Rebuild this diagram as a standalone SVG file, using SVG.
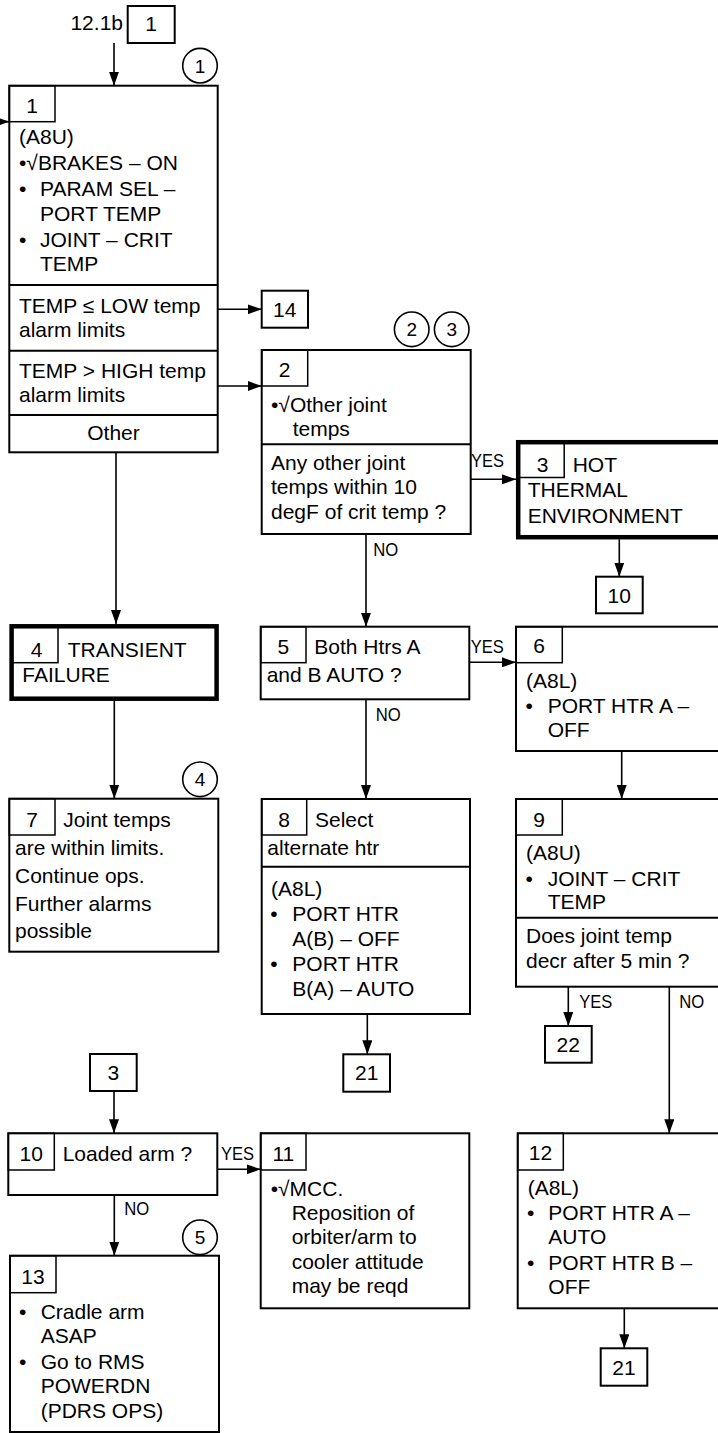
<svg xmlns="http://www.w3.org/2000/svg" width="718" height="1433" viewBox="0 0 718 1433">
<defs>
<style>
.box{fill:#fff;stroke:#000;stroke-width:2}
.thick{fill:#fff;stroke:#000;stroke-width:4.5}
.tab{fill:none;stroke:#000;stroke-width:1.5}
.div{stroke:#000;stroke-width:2}
.ln{fill:none;stroke:#000;stroke-width:1.6}
.arr{fill:none;stroke:#000;stroke-width:1.6;marker-end:url(#ah)}
.circ{fill:#fff;stroke:#000;stroke-width:1.6}
text{font-family:"Liberation Sans",Arial,Helvetica,sans-serif;fill:#000}
.t{font-size:21px}
.m{font-size:21px;text-anchor:middle}
.c{font-size:19px;text-anchor:middle}
.l{font-size:19px}
</style>
<marker id="ah" viewBox="0 0 14 10" refX="14" refY="5" markerWidth="14" markerHeight="10" markerUnits="userSpaceOnUse" orient="auto">
<path d="M0,0 L14,5 L0,10 Z" fill="#000"/>
</marker>
</defs>
<rect width="718" height="1433" fill="#fff"/>

<g id="connectors">
<line class="arr" x1="-10" y1="121.7" x2="9.3" y2="121.7"/>
<line class="arr" x1="114" y1="43" x2="114" y2="85.7"/>
<line class="arr" x1="217.7" y1="309.3" x2="261.7" y2="309.3"/>
<line class="arr" x1="217.7" y1="386" x2="261.7" y2="386"/>
<line class="arr" x1="470.7" y1="479.3" x2="516" y2="479.3"/>
<line class="arr" x1="619.3" y1="539.3" x2="619.3" y2="576.7"/>
<line class="arr" x1="366" y1="534" x2="366" y2="626.7"/>
<line class="arr" x1="116" y1="452.3" x2="116" y2="624"/>
<line class="arr" x1="114.3" y1="701" x2="114.3" y2="798.7"/>
<line class="arr" x1="469.3" y1="662.3" x2="516" y2="662.3"/>
<line class="arr" x1="366" y1="699.3" x2="366" y2="799"/>
<line class="arr" x1="621.7" y1="751" x2="621.7" y2="799"/>
<line class="arr" x1="568.3" y1="986.7" x2="568.3" y2="1026"/>
<line class="arr" x1="669.3" y1="986.7" x2="669.3" y2="1133.3"/>
<line class="arr" x1="624.3" y1="1308.3" x2="624.3" y2="1348.3"/>
<line class="arr" x1="367.3" y1="1014" x2="367.3" y2="1054.3"/>
<line class="arr" x1="114" y1="1091" x2="114" y2="1133.3"/>
<line class="arr" x1="217.3" y1="1169.3" x2="260.7" y2="1169.3"/>
<line class="arr" x1="114.3" y1="1195" x2="114.3" y2="1255.7"/>
<text class="l" x="471" y="466.7" textLength="33" lengthAdjust="spacingAndGlyphs">YES</text>
<text class="l" x="373.3" y="556" textLength="25" lengthAdjust="spacingAndGlyphs">NO</text>
<text class="l" x="470.7" y="653" textLength="33" lengthAdjust="spacingAndGlyphs">YES</text>
<text class="l" x="375.7" y="720.7" textLength="25" lengthAdjust="spacingAndGlyphs">NO</text>
<text class="l" x="579.3" y="1008.3" textLength="33" lengthAdjust="spacingAndGlyphs">YES</text>
<text class="l" x="679.3" y="1008.3" textLength="25" lengthAdjust="spacingAndGlyphs">NO</text>
<text class="l" x="221" y="1160" textLength="33" lengthAdjust="spacingAndGlyphs">YES</text>
<text class="l" x="124.3" y="1215" textLength="25" lengthAdjust="spacingAndGlyphs">NO</text>
</g>

<g id="ref-top">
<text class="t" x="123" y="30" text-anchor="end">12.1b</text>
<rect class="box" x="127.7" y="6" width="47" height="37"/>
<text class="m" x="151.2" y="31">1</text>
</g>

<g id="circle1">
<circle class="circ" cx="200" cy="65.7" r="17.3"/>
<text class="c" x="200" y="72.5">1</text>
</g>

<g id="node1">
<rect class="box" x="9.3" y="85.7" width="208.4" height="366.6"/>
<rect class="tab" x="9.3" y="85.7" width="45.7" height="36"/>
<text class="m" x="32.2" y="113">1</text>
<text class="t" x="19" y="144">(A8U)</text>
<text class="t" x="19" y="170">•√BRAKES – ON</text>
<text class="t" x="19" y="196">•</text>
<text class="t" x="40" y="196">PARAM SEL –</text>
<text class="t" x="40" y="221">PORT TEMP</text>
<text class="t" x="19" y="247">•</text>
<text class="t" x="40" y="247">JOINT – CRIT</text>
<text class="t" x="40" y="271">TEMP</text>
<line class="div" x1="9.3" y1="285" x2="217.7" y2="285"/>
<text class="t" x="19" y="313">TEMP ≤ LOW temp</text>
<text class="t" x="19" y="337">alarm limits</text>
<line class="div" x1="9.3" y1="350.7" x2="217.7" y2="350.7"/>
<text class="t" x="19" y="377.7">TEMP &gt; HIGH temp</text>
<text class="t" x="19" y="401.7">alarm limits</text>
<line class="div" x1="9.3" y1="415" x2="217.7" y2="415"/>
<text class="m" x="113.5" y="440">Other</text>
</g>

<g id="ref14">
<rect class="box" x="261.7" y="290.7" width="46.3" height="37"/>
<text class="m" x="284.8" y="317">14</text>
</g>

<g id="circles23">
<circle class="circ" cx="411.7" cy="329.3" r="17.3"/>
<text class="c" x="411.7" y="336">2</text>
<circle class="circ" cx="451.7" cy="329.3" r="17.3"/>
<text class="c" x="451.7" y="336">3</text>
</g>

<g id="node2">
<rect class="box" x="261.7" y="350" width="209" height="184"/>
<rect class="tab" x="261.7" y="350" width="46" height="36"/>
<text class="m" x="284.7" y="377">2</text>
<text class="t" x="271" y="411.7">•√Other joint</text>
<text class="t" x="292.7" y="436">temps</text>
<line class="div" x1="261.7" y1="444.3" x2="470.7" y2="444.3"/>
<text class="t" x="271" y="470">Any other joint</text>
<text class="t" x="271" y="494.3">temps within 10</text>
<text class="t" x="271" y="519">degF of crit temp ?</text>
</g>

<g id="node3">
<rect class="thick" x="518.2" y="442.2" width="212" height="95"/>
<rect class="tab" x="518.2" y="442.2" width="46" height="35.3"/>
<text class="m" x="542.7" y="472">3</text>
<text class="t" x="572.7" y="472">HOT</text>
<text class="t" x="527.7" y="497.3">THERMAL</text>
<text class="t" x="527.7" y="522.7">ENVIRONMENT</text>
</g>

<g id="ref10a">
<rect class="box" x="596" y="576.7" width="46.7" height="36.6"/>
<text class="m" x="619.3" y="603">10</text>
</g>

<g id="node4">
<rect class="thick" x="11.6" y="626.3" width="205" height="72.4"/>
<rect class="tab" x="11.6" y="626.3" width="46.4" height="36.4"/>
<text class="m" x="36.7" y="656.7">4</text>
<text class="t" x="67.7" y="656.7">TRANSIENT</text>
<text class="t" x="22.3" y="682.3">FAILURE</text>
</g>

<g id="node5">
<rect class="box" x="260.7" y="626.7" width="208.6" height="72.6"/>
<rect class="tab" x="260.7" y="626.7" width="45.3" height="36"/>
<text class="m" x="283.4" y="654">5</text>
<text class="t" x="314.3" y="654">Both Htrs A</text>
<text class="t" x="266.7" y="681.7">and B AUTO ?</text>
</g>

<g id="node6">
<rect class="box" x="516" y="626.7" width="212" height="124.3"/>
<rect class="tab" x="516" y="626.7" width="46.3" height="36"/>
<text class="m" x="539.2" y="653.3">6</text>
<text class="t" x="526" y="688.3">(A8L)</text>
<text class="t" x="525.5" y="713.3">•</text>
<text class="t" x="547.7" y="713.3">PORT HTR A –</text>
<text class="t" x="547.7" y="737.3">OFF</text>
</g>

<g id="circle4">
<circle class="circ" cx="200" cy="779.3" r="17.3"/>
<text class="c" x="200" y="786">4</text>
</g>

<g id="node7">
<rect class="box" x="9.3" y="798.7" width="209" height="153"/>
<rect class="tab" x="9.3" y="798.7" width="45.7" height="36.3"/>
<text class="m" x="32.2" y="827.3">7</text>
<text class="t" x="63.3" y="827.3">Joint temps</text>
<text class="t" x="15" y="855">are within limits.</text>
<text class="t" x="15" y="882.7">Continue ops.</text>
<text class="t" x="15" y="911">Further alarms</text>
<text class="t" x="15" y="938.3">possible</text>
</g>

<g id="node8">
<rect class="box" x="261.7" y="799" width="208.3" height="215"/>
<rect class="tab" x="261.7" y="799" width="45" height="36"/>
<text class="m" x="284.2" y="827.3">8</text>
<text class="t" x="315" y="827.3">Select</text>
<text class="t" x="267.3" y="855">alternate htr</text>
<line class="div" x1="261.7" y1="866.7" x2="470" y2="866.7"/>
<text class="t" x="271" y="896">(A8L)</text>
<text class="t" x="270.3" y="921">•</text>
<text class="t" x="292.3" y="921">PORT HTR</text>
<text class="t" x="292.3" y="946">A(B) – OFF</text>
<text class="t" x="270.3" y="971">•</text>
<text class="t" x="292.3" y="971">PORT HTR</text>
<text class="t" x="292.3" y="996">B(A) – AUTO</text>
</g>

<g id="node9">
<rect class="box" x="516" y="799" width="212" height="187.7"/>
<rect class="tab" x="516" y="799" width="46.3" height="36"/>
<text class="m" x="539.2" y="826.7">9</text>
<text class="t" x="526" y="860">(A8U)</text>
<text class="t" x="525.5" y="885.7">•</text>
<text class="t" x="547.7" y="885.7">JOINT – CRIT</text>
<text class="t" x="547.7" y="909.3">TEMP</text>
<line class="div" x1="516" y1="917.7" x2="728" y2="917.7"/>
<text class="t" x="526" y="943.3">Does joint temp</text>
<text class="t" x="526" y="968.3">decr after 5 min ?</text>
</g>

<g id="ref22">
<rect class="box" x="545" y="1026" width="46.7" height="36.7"/>
<text class="m" x="568.3" y="1052">22</text>
</g>

<g id="ref21a">
<rect class="box" x="343.3" y="1054.3" width="46.7" height="37.4"/>
<text class="m" x="366.7" y="1080">21</text>
</g>

<g id="ref3">
<rect class="box" x="90" y="1054" width="46.7" height="37"/>
<text class="m" x="113.3" y="1080">3</text>
</g>

<g id="node10">
<rect class="box" x="8.3" y="1133.3" width="209" height="61.7"/>
<rect class="tab" x="8.3" y="1133.3" width="46" height="36.7"/>
<text class="m" x="31.3" y="1160.7">10</text>
<text class="t" x="62.7" y="1160.7">Loaded arm ?</text>
</g>

<g id="node11">
<rect class="box" x="260.7" y="1133.3" width="208.6" height="175"/>
<rect class="tab" x="260.7" y="1133.3" width="45.3" height="36.7"/>
<text class="m" x="283.4" y="1160.7">11</text>
<text class="t" x="270.7" y="1195.7">•√MCC.</text>
<text class="t" x="291.7" y="1220">Reposition of</text>
<text class="t" x="291.7" y="1244.3">orbiter/arm to</text>
<text class="t" x="291.7" y="1269.3">cooler attitude</text>
<text class="t" x="291.7" y="1293.3">may be reqd</text>
</g>

<g id="node12">
<rect class="box" x="517.7" y="1133.3" width="212" height="175"/>
<rect class="tab" x="517.7" y="1133.3" width="45.6" height="36.7"/>
<text class="m" x="540.5" y="1160">12</text>
<text class="t" x="527.7" y="1195">(A8L)</text>
<text class="t" x="527" y="1220">•</text>
<text class="t" x="548.3" y="1220">PORT HTR A –</text>
<text class="t" x="548.3" y="1244">AUTO</text>
<text class="t" x="527" y="1270">•</text>
<text class="t" x="548.3" y="1270">PORT HTR B –</text>
<text class="t" x="548.3" y="1294">OFF</text>
</g>

<g id="ref21b">
<rect class="box" x="600.7" y="1348.3" width="46.6" height="37.4"/>
<text class="m" x="624" y="1375">21</text>
</g>

<g id="circle5">
<circle class="circ" cx="200" cy="1237.3" r="17.3"/>
<text class="c" x="200" y="1244">5</text>
</g>

<g id="node13">
<rect class="box" x="10" y="1255.7" width="209" height="176.3"/>
<rect class="tab" x="10" y="1255.7" width="46" height="37"/>
<text class="m" x="33" y="1284">13</text>
<text class="t" x="19" y="1319">•</text>
<text class="t" x="40.7" y="1319">Cradle arm</text>
<text class="t" x="40.7" y="1342.7">ASAP</text>
<text class="t" x="19" y="1369">•</text>
<text class="t" x="40.7" y="1369">Go to RMS</text>
<text class="t" x="40.7" y="1393.3">POWERDN</text>
<text class="t" x="40.7" y="1418.3">(PDRS OPS)</text>
</g>
</svg>
